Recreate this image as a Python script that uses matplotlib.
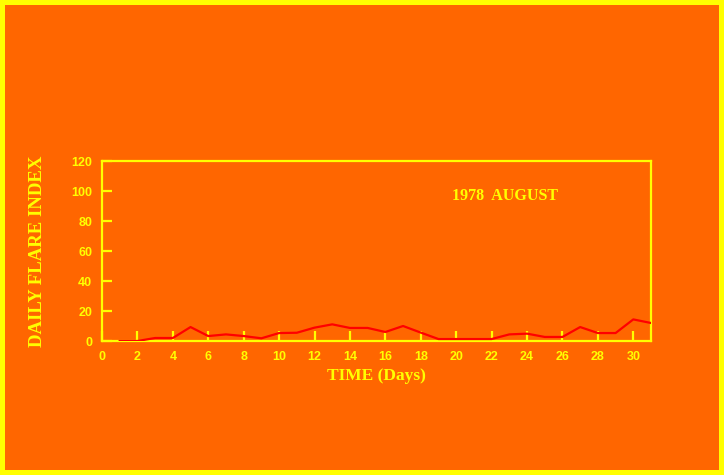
import matplotlib
matplotlib.use("Agg")
import matplotlib.pyplot as plt
from matplotlib.patches import Rectangle

days = list(range(1, 32))
flare_index = [0, 0, 2, 2, 9.3, 3.3, 4.4, 3.3, 1.8, 5.3, 5.5, 8.9, 11.1, 8.7, 8.7,
               6, 10, 5.6, 1.3, 1.3, 1.3, 1.3, 4.4, 4.9, 2.7, 2.7, 9.3, 5.3, 5.3, 14.4, 12]
xticks = list(range(0, 31, 2))
yticks = list(range(0, 121, 20))

ORANGE = "#FF6600"
YELLOW = "#FFFF00"

fig = plt.figure(figsize=(7.24, 4.75), dpi=100)
fig.patch.set_facecolor(YELLOW)
bg = fig.add_axes([5/724, 5/475, 714/724, 465/475], zorder=-10)
bg.set_facecolor(ORANGE)
bg.set_axis_off()
bg.add_patch(Rectangle((0, 0), 1, 1, transform=bg.transAxes, facecolor=ORANGE, edgecolor="none"))

ax = fig.add_axes([102/724, 134/475, 549/724, 180/475], zorder=1)
ax.set_facecolor(ORANGE)
ax.plot(days, flare_index, color="#FF0000", lw=1.6, zorder=3)
ax.set_xlim(0, 31)
ax.set_ylim(0, 120)
ax.set_xticks(xticks)
ax.set_yticks(yticks)
for s in ax.spines.values():
    s.set_color(YELLOW)
    s.set_linewidth(1.6)
ax.tick_params(direction="in", length=7.5, width=1.6, color=YELLOW, pad=7,
               labelcolor=YELLOW)
for lab in ax.get_xticklabels() + ax.get_yticklabels():
    lab.set_family("Liberation Sans")
    lab.set_fontweight("bold")
    lab.set_fontsize(9)

ax.set_xlabel("TIME (Days)", family="Liberation Serif", fontweight="bold",
              fontsize=12.5, color=YELLOW, labelpad=4)
fig.text(38/724, 224/475, "DAILY FLARE INDEX", rotation=90, ha="center", va="center",
         family="Liberation Serif", fontweight="bold", fontsize=13.5, color=YELLOW)
fig.text(505/724, 279/475, "1978  AUGUST", ha="center", va="center",
         family="Liberation Serif", fontweight="bold", fontsize=11.5, color=YELLOW)

fig.savefig("out.png", dpi=100, facecolor=fig.get_facecolor())
